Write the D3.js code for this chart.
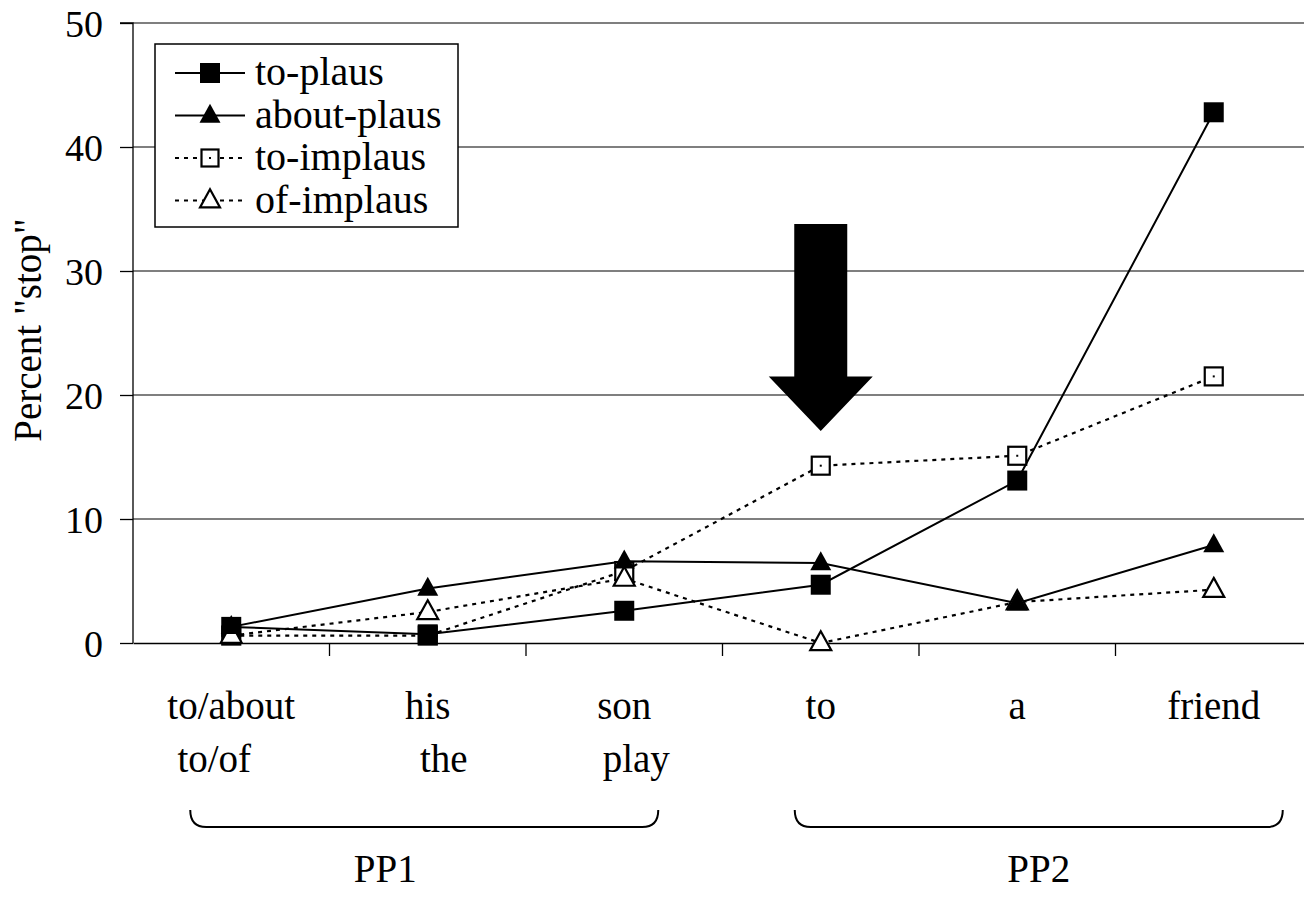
<!DOCTYPE html>
<html><head><meta charset="utf-8">
<script src="https://cdn.jsdelivr.net/npm/d3@7/dist/d3.min.js"></script>
<style>html,body{margin:0;padding:0;background:#fff;overflow:hidden}svg{display:block}
svg text{font-family:"Liberation Serif","Times New Roman",serif;}</style>
</head><body><svg id="c" width="1304" height="897"></svg>
<script>
const categories = ["to/about","his","son","to","a","friend"];
const categories2 = ["to/of","the","play","","",""];
const seriesNames = ["to-plaus","about-plaus","to-implaus","of-implaus"];
const toPlaus = [1.3, 0.7, 2.6, 4.7, 13.1, 42.8];
const aboutPlaus = [1.3, 4.4, 6.6, 6.45, 3.2, 7.9];
const toImplaus = [0.6, 0.6, 5.8, 14.3, 15.1, 21.5];
const ofImplaus = [0.6, 2.5, 5.2, 0.0, 3.3, 4.3];
const yTicks = [0,10,20,30,40,50];
const groups = [{label:"PP1", from:0, to:2}, {label:"PP2", from:3, to:5}];
const arrowAt = {cat:"to", top:33.8, headBase:21.5, tip:17.1};

const svg = d3.select("#c");
const font = '"Liberation Serif","Times New Roman",serif';
const m = {left:133, top:23, right:1312, bottom:643};
const x = d3.scaleBand().domain(categories).range([m.left, m.right]).padding(0);
const y = d3.scaleLinear().domain([0,50]).range([m.bottom, m.top]);
const cx = c => x(c) + x.bandwidth()/2;

// gridlines
svg.append("g").selectAll("line").data(yTicks.filter(d=>d>0)).join("line")
  .attr("x1", m.left).attr("x2", m.right).attr("y1", d=>y(d)).attr("y2", d=>y(d))
  .attr("stroke", "#000").attr("stroke-width", 1.2);

// y axis
const ya = svg.append("g").attr("transform", `translate(${m.left},0)`)
  .call(d3.axisLeft(y).tickValues(yTicks).tickSize(13).tickPadding(17));
ya.attr("font-family", null).attr("font-size", null);
ya.selectAll("path,line").attr("stroke","#000").attr("stroke-width",1.3);
ya.select(".domain").attr("d", `M-13,${y(50)}H0V${y(0)}`);
ya.selectAll("text").style("font-family", font).style("font-size","38px").attr("fill","#000").attr("dy","0.36em");

// x axis
const xa = svg.append("g").attr("transform", `translate(0,${m.bottom})`)
  .call(d3.axisBottom(x).tickSize(0).tickFormat(""));
xa.select(".domain").attr("stroke","#000").attr("stroke-width",1.3);
xa.selectAll(".tick").remove();
svg.append("g").selectAll("line").data(categories.slice(1)).join("line")
  .attr("x1", d=>x(d)).attr("x2", d=>x(d)).attr("y1", m.bottom).attr("y2", m.bottom+13)
  .attr("stroke","#000").attr("stroke-width",1.3);

// category labels
svg.append("g").selectAll("text").data(categories).join("text")
  .attr("x", d=>cx(d)).attr("y", 719).attr("text-anchor","middle")
  .style("font-family", font).style("font-size","39px").text(d=>d);
svg.append("g").selectAll("text").data(categories2).join("text")
  .attr("x", (d,i)=>cx(categories[i]) + [-17,16,12,0,0,0][i]).attr("y", 772).attr("text-anchor","middle")
  .style("font-family", font).style("font-size","39px").text(d=>d);

// y title
svg.append("text").attr("transform","translate(41,330) rotate(-90)").attr("text-anchor","middle")
  .style("font-family", font).style("font-size","39px").text('Percent "stop"');

// braces
const braceY0 = 810, braceY1 = 827, r = 16;
const braceExt = [{l:-41, r:34}, {l:-26, r:69}];
groups.forEach((g,i)=>{
  const x0 = cx(categories[g.from]) + braceExt[i].l;
  const x1 = cx(categories[g.to]) + braceExt[i].r;
  svg.append("path").attr("d",
    `M${x0},${braceY0} Q${x0},${braceY1} ${x0+r},${braceY1} L${x1-r},${braceY1} Q${x1},${braceY1} ${x1},${braceY0}`)
    .attr("fill","none").attr("stroke","#000").attr("stroke-width",2);
  svg.append("text").attr("x", (x0+x1)/2 - (i===0?39:0)).attr("y", 882).attr("text-anchor","middle")
    .style("font-family", font).style("font-size","39px").text(g.label);
});

// arrow annotation
{
  const ax = cx(arrowAt.cat), sw = 26.5, hw = 52;
  svg.append("path").attr("d",
    `M${ax-sw},${y(arrowAt.top)} H${ax+sw} V${y(arrowAt.headBase)} H${ax+hw} L${ax},${y(arrowAt.tip)} L${ax-hw},${y(arrowAt.headBase)} H${ax-sw} Z`)
    .attr("fill","#000");
}

// series
const series = [
  {name:seriesNames[0], values:toPlaus, dash:null, shape:"square", fill:"#000"},
  {name:seriesNames[1], values:aboutPlaus, dash:null, shape:"triangle", fill:"#000"},
  {name:seriesNames[2], values:toImplaus, dash:"4,5", shape:"square", fill:"#fff"},
  {name:seriesNames[3], values:ofImplaus, dash:"4,5", shape:"triangle", fill:"#fff"},
];
function marker(sel, s, size){
  if (s.shape==="square"){
    const h = s.fill==="#000" ? size : size-2;
    sel.append("rect").attr("x",-h/2).attr("y",-h/2).attr("width",h).attr("height",h)
      .attr("fill", s.fill).attr("stroke","#000").attr("stroke-width", s.fill==="#000"?0:2.2);
    if (s.fill!=="#000") sel.append("rect").attr("x",-1).attr("y",-1).attr("width",2).attr("height",2).attr("fill","#000");
  } else {
    const w = size*1.05, h = size*0.95;
    sel.append("path").attr("d", `M0,${-h*0.62} L${w/2},${h*0.38} L${-w/2},${h*0.38} Z`)
      .attr("fill", s.fill).attr("stroke","#000").attr("stroke-width", s.fill==="#000"?0:2.2).attr("stroke-linejoin","miter");
  }
}
const line = d3.line().x((d,i)=>cx(categories[i])).y(d=>y(d));
series.forEach(s=>{
  svg.append("path").attr("d", line(s.values)).attr("fill","none").attr("stroke","#000")
    .attr("stroke-width", s.dash?2.2:2).attr("stroke-dasharray", s.dash);
});
[2,0,3,1].forEach(k=>{
  const s = series[k];
  s.values.forEach((v,i)=>{
    const g = svg.append("g").attr("transform", `translate(${cx(categories[i])},${y(v)})`);
    marker(g, s, 20);
  });
});

// legend
const lg = svg.append("g");
lg.append("rect").attr("x",155).attr("y",44).attr("width",303).attr("height",183)
  .attr("fill","#fff").attr("stroke","#000").attr("stroke-width",1.5);
series.forEach((s,i)=>{
  const ry = 73 + i*42.5;
  lg.append("line").attr("x1",175).attr("x2",245).attr("y1",ry).attr("y2",ry)
    .attr("stroke","#000").attr("stroke-width", 2).attr("stroke-dasharray", s.dash);
  const g = lg.append("g").attr("transform", `translate(210,${ry})`);
  marker(g, s, s.fill==="#000"?20:19);
  lg.append("text").attr("x",255).attr("y",ry).attr("dy","0.3em")
    .style("font-family", font).style("font-size","40px").text(s.name);
});
</script></body></html>
